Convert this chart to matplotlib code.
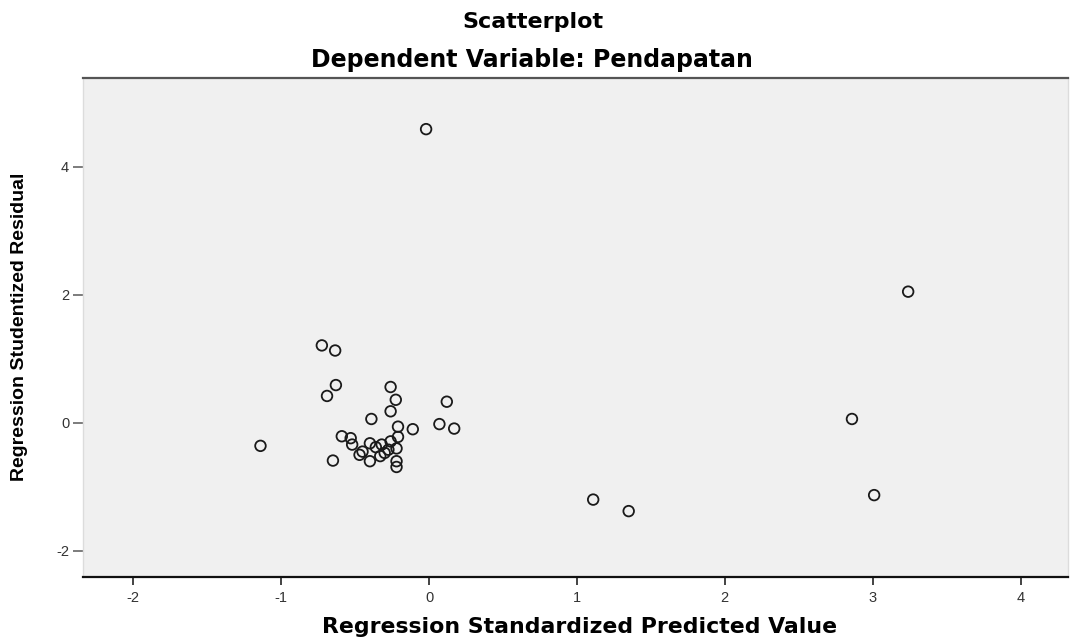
import matplotlib
matplotlib.use("Agg")
import matplotlib.pyplot as plt

# Data (standardized predicted value, studentized residual)
pred = [-0.02, 3.24, 2.86, 3.01, 1.11, 1.35, -1.14,
        -0.725, -0.635, -0.63, -0.69, -0.26, -0.225, -0.26, 0.12,
        -0.39, -0.21, -0.11, 0.07, 0.17,
        -0.59, -0.53, -0.52, -0.40, -0.32, -0.26, -0.21,
        -0.45, -0.33, -0.275, -0.22, -0.40, -0.22, -0.22, -0.65,
        -0.47, -0.36, -0.30]
resid = [4.59, 2.05, 0.06, -1.13, -1.20, -1.38, -0.36,
         1.21, 1.13, 0.59, 0.42, 0.56, 0.36, 0.18, 0.33,
         0.06, -0.06, -0.10, -0.02, -0.09,
         -0.21, -0.24, -0.34, -0.32, -0.34, -0.29, -0.22,
         -0.45, -0.52, -0.42, -0.40, -0.60, -0.60, -0.69, -0.59,
         -0.50, -0.38, -0.47]

xticks = [-2, -1, 0, 1, 2, 3, 4]
yticks = [-2, 0, 2, 4]

plt.rcParams['font.family'] = ['Liberation Sans', 'DejaVu Sans']

fig = plt.figure(figsize=(10.7, 6.39), dpi=100)
ax = fig.add_axes([0.0776, 0.097, 0.9204, 0.781])
ax.set_facecolor('#f0f0f0')

ax.scatter(pred, resid, s=58, facecolors='none', edgecolors='#1a1a1a', linewidths=1.3, zorder=3)

ax.set_xlim(-2.34, 4.32)
ax.set_ylim(-2.41, 5.39)
ax.set_xticks(xticks)
ax.set_yticks(yticks)
ax.set_xticklabels([str(t) for t in xticks])
ax.set_yticklabels([str(t) for t in yticks])
ax.tick_params(axis='x', direction='out', length=6, width=1.2, color='#222222',
               labelsize=10.5, labelcolor='#333333', pad=4)
ax.tick_params(axis='y', direction='out', length=7, width=1.2, color='#666666',
               labelsize=10.5, labelcolor='#333333', pad=3)

ax.spines['top'].set_color('#555555')
ax.spines['top'].set_linewidth(1.6)
ax.spines['bottom'].set_color('#111111')
ax.spines['bottom'].set_linewidth(1.6)
ax.spines['left'].set_color('#dcdcdc')
ax.spines['left'].set_linewidth(1.0)
ax.spines['right'].set_color('#dcdcdc')
ax.spines['right'].set_linewidth(1.0)

bold_wide = dict(family=['DejaVu Sans'], fontweight='bold')

fig.text(0.542, 1 - 627 / 639, 'Regression Standardized Predicted Value',
         ha='center', va='center', fontsize=15.8, **bold_wide)
fig.text(20 / 1070, 1 - 327 / 639, 'Regression Studentized Residual',
         ha='center', va='center', rotation=90, fontsize=14, fontweight='bold')

fig.text(533 / 1070, 1 - 22 / 639, 'Scatterplot', ha='center', va='center', fontsize=16, **bold_wide)
fig.text(532 / 1070, 1 - 60 / 639, 'Dependent Variable: Pendapatan', ha='center', va='center',
         fontsize=17, **bold_wide)

fig.savefig('out.png', dpi=100, facecolor='white')
